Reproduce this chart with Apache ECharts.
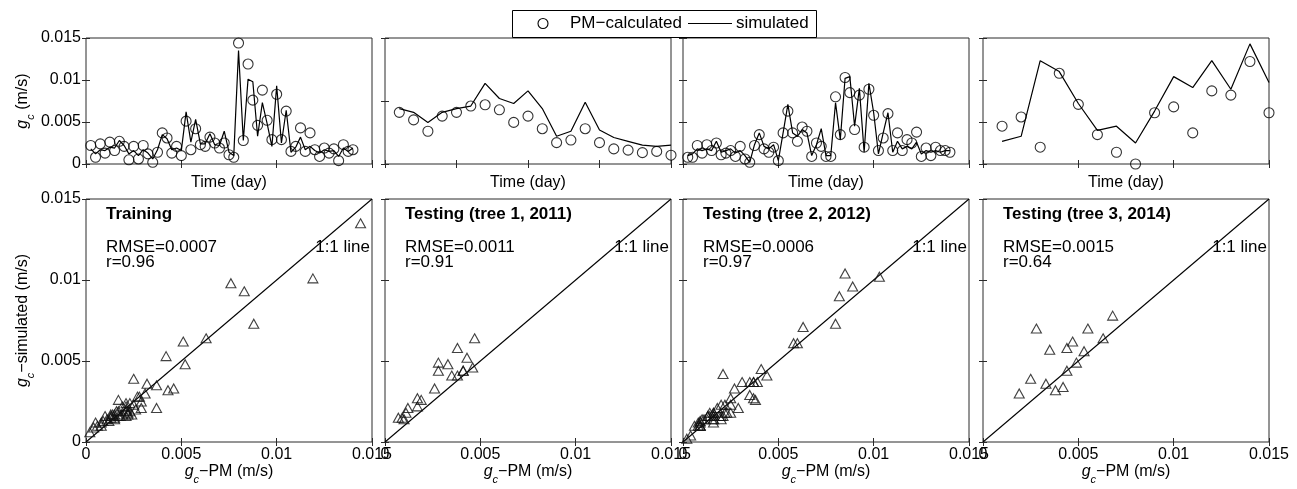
<!DOCTYPE html>
<html><head><meta charset="utf-8">
<script src="https://cdn.jsdelivr.net/npm/echarts@6/dist/echarts.min.js"></script>
<style>html,body{margin:0;padding:0;background:#fff}#c{width:1297px;height:489px}</style>
</head><body><div id="c"></div>
<script>
// ---------------- data ----------------
const pm1 = [0.0022,0.0008,0.0024,0.0013,0.0026,0.0016,0.0027,0.0021,0.0005,0.0021,
  0.0006,0.0022,0.0012,0.0002,0.0014,0.0037,0.0031,0.0013,0.0021,0.0010,
  0.0051,0.0017,0.0042,0.0023,0.0021,0.0032,0.0025,0.0019,0.0025,0.0011,
  0.0008,0.0144,0.0028,0.0119,0.0076,0.0046,0.0088,0.0052,0.0029,0.0083,
  0.0029,0.0063,0.0015,0.0021,0.0043,0.0015,0.0037,0.0017,0.0009,0.0019,
  0.0013,0.0018,0.0004,0.0023,0.0015,0.0017];
const sim1 = [0.0018,0.0012,0.0017,0.0016,0.0020,0.0019,0.0028,0.0022,0.0012,0.0016,
  0.0010,0.0017,0.0013,0.0006,0.0017,0.0035,0.0030,0.0017,0.0019,0.0016,
  0.0062,0.0026,0.0053,0.0024,0.0024,0.0036,0.0023,0.0022,0.0039,0.0014,
  0.0010,0.0135,0.0028,0.0101,0.0098,0.0033,0.0073,0.0048,0.0021,0.0093,
  0.0025,0.0064,0.0014,0.0020,0.0032,0.0017,0.0021,0.0016,0.0013,0.0017,
  0.0015,0.0016,0.0009,0.0019,0.0015,0.0019];
const pm2 = [0.0041,0.0035,0.0026,0.0038,0.0041,0.0046,0.0047,0.0043,0.0033,0.0038,
  0.0028,0.0017,0.0019,0.0028,0.0017,0.0012,0.0011,0.0009,0.0010,0.0007];
const sim2 = [0.0044,0.0041,0.0033,0.0041,0.0044,0.0046,0.0064,0.0052,0.0048,0.0058,
  0.0044,0.0022,0.0026,0.0049,0.0027,0.0021,0.0018,0.0015,0.0014,0.0015];
const pm3 = [0.0008,0.0008,0.0022,0.0013,0.0023,0.0016,0.0025,0.0011,0.0013,0.0016,
  0.0009,0.0021,0.0006,0.0002,0.0022,0.0035,0.0018,0.0014,0.0020,0.0004,
  0.0037,0.0063,0.0037,0.0027,0.0044,0.0039,0.0009,0.0025,0.0021,0.0009,
  0.0009,0.0080,0.0035,0.0103,0.0085,0.0041,0.0082,0.0020,0.0089,0.0058,
  0.0016,0.0031,0.0060,0.0016,0.0037,0.0016,0.0029,0.0025,0.0038,0.0009,
  0.0019,0.0010,0.0020,0.0016,0.0016,0.0014];
const sim3 = [0.0010,0.0012,0.0018,0.0016,0.0018,0.0016,0.0027,0.0014,0.0016,0.0018,
  0.0013,0.0016,0.0010,0.0002,0.0023,0.0037,0.0021,0.0018,0.0023,0.0004,
  0.0037,0.0071,0.0037,0.0033,0.0041,0.0037,0.0010,0.0023,0.0042,0.0010,
  0.0010,0.0073,0.0029,0.0102,0.0104,0.0045,0.0090,0.0014,0.0096,0.0061,
  0.0012,0.0037,0.0061,0.0014,0.0027,0.0018,0.0021,0.0018,0.0026,0.0012,
  0.0016,0.0014,0.0016,0.0014,0.0016,0.0016];
const pm4 = [0.0045,0.0056,0.0020,0.0108,0.0071,0.0035,0.0014,0.0000,0.0061,0.0068,
  0.0037,0.0087,0.0082,0.0122,0.0061];
const sim4 = [0.0027,0.0033,0.0123,0.0110,0.0072,0.0040,0.0045,0.0025,0.0063,0.0104,
  0.0091,0.0123,0.0089,0.0143,0.0097];
// scatter of panel 4
const scat4Pm  = [0.0068,0.0055,0.0028,0.0063,0.0047,0.0044,0.0035,0.0053,0.0049,0.0044,
  0.0025,0.0033,0.0038,0.0042,0.0019];
const scat4Sim = [0.0078,0.0070,0.0070,0.0064,0.0062,0.0058,0.0057,0.0056,0.0049,0.0044,
  0.0039,0.0036,0.0032,0.0034,0.0030];

const panelTitles = ['Training', 'Testing (tree 1, 2011)', 'Testing (tree 2, 2012)', 'Testing (tree 3, 2014)'];
const rmseLabels = ['RMSE=0.0007', 'RMSE=0.0011', 'RMSE=0.0006', 'RMSE=0.0015'];
const rLabels = ['r=0.96', 'r=0.91', 'r=0.97', 'r=0.64'];
const oneToOneLabel = '1:1 line';
const timeAxisMax = [60, 20, 60, 15];
const timeAxisStep = [20, 5, 20, 5];
const topGcMax = [0.015, 0.01, 0.015, 0.015];
const gcMax = 0.015;
const gcStep = 0.005;
const seriesNames = ['PM\u2212calculated', 'simulated'];
const timeAxisTitle = 'Time (day)';

const pmSets = [pm1, pm2, pm3, pm4];
const simSets = [sim1, sim2, sim3, sim4];
const scatPm = [pm1, pm2, pm3, scat4Pm];
const scatSim = [sim1, sim2, sim3, scat4Sim];

// ---------------- layout / style ----------------
const FONT = '"Liberation Sans", Arial, Helvetica, sans-serif';
const colLeft = [86, 385, 683, 983];
const W = 286;
const topTop = 38, topH = 126, botTop = 199, botH = 243;
const FRAME = '#2a2a2a';
const INK = '#000';

const grids = [], xAxes = [], yAxes = [], series = [], graphics = [];
const tick = { show: true, inside: true, length: 4, lineStyle: { color: FRAME, width: 1 } };
const labelStyle = { color: '#000', fontSize: 16, fontFamily: FONT, margin: 5 };
const richSub = {
  g: { fontStyle: 'italic', fontSize: 16, fontFamily: FONT, color: '#000' },
  c: { fontStyle: 'italic', fontSize: 11, fontFamily: FONT, color: '#000', padding: [16, 0, 0, 0] },
  t: { fontSize: 16, fontFamily: FONT, color: '#000' }
};

function addGrid(left, top, height, xCfg, yCfg) {
  const gi = grids.length;
  grids.push({ left: left, top: top, width: W, height: height, show: true,
    borderColor: FRAME, borderWidth: 1, backgroundColor: 'transparent', containLabel: false });
  xAxes.push(Object.assign({ gridIndex: gi, type: 'value', position: 'bottom',
    axisLine: { show: false }, axisTick: tick, splitLine: { show: false } }, xCfg));
  xAxes.push({ gridIndex: gi, type: 'value', position: 'top', min: xCfg.min, max: xCfg.max,
    interval: xCfg.interval, axisLine: { show: false }, axisTick: tick,
    axisLabel: { show: false }, splitLine: { show: false } });
  yAxes.push(Object.assign({ gridIndex: gi, type: 'value', position: 'left',
    axisLine: { show: false }, axisTick: tick, splitLine: { show: false } }, yCfg));
  yAxes.push({ gridIndex: gi, type: 'value', position: 'right', min: yCfg.min, max: yCfg.max,
    interval: yCfg.interval, axisLine: { show: false }, axisTick: tick,
    axisLabel: { show: false }, splitLine: { show: false } });
  return gi;
}

for (let p = 0; p < 4; p++) {
  // ---- top: time series ----
  const gTop = addGrid(colLeft[p], topTop, topH,
    { min: 0, max: timeAxisMax[p], interval: timeAxisStep[p], axisLabel: { show: false },
      name: timeAxisTitle, nameLocation: 'middle', nameGap: 11,
      nameTextStyle: { fontSize: 16, fontFamily: FONT, color: '#000' } },
    { min: 0, max: topGcMax[p], interval: gcStep,
      axisLabel: Object.assign({ show: p === 0, showMinLabel: true, showMaxLabel: true }, labelStyle),
      name: p === 0 ? '{g|g}{c|c}{t| (m/s)}' : '', nameLocation: 'middle', nameGap: 50,
      nameTextStyle: { rich: richSub } });
  const pts = pmSets[p].map((v, i) => [i + 1, v]);
  const line = simSets[p].map((v, i) => [i + 1, v]);
  series.push({ type: 'line', name: seriesNames[1], xAxisIndex: 2 * gTop, yAxisIndex: 2 * gTop,
    data: line, symbol: 'none', lineStyle: { color: INK, width: 1.2 }, silent: true, z: 2 });
  series.push({ type: 'scatter', name: seriesNames[0], xAxisIndex: 2 * gTop, yAxisIndex: 2 * gTop,
    data: pts, symbol: 'circle', symbolSize: 10,
    itemStyle: { color: 'rgba(0,0,0,0)', borderColor: INK, borderWidth: 1.1 }, silent: true, z: 3 });

  // ---- bottom: scatter ----
  const gBot = addGrid(colLeft[p], botTop, botH,
    { min: 0, max: gcMax, interval: gcStep,
      axisLabel: Object.assign({ show: true, showMinLabel: true, showMaxLabel: true, hideOverlap: false }, labelStyle),
      name: '{g|g}{c|c}{t|\u2212PM (m/s)}', nameLocation: 'middle', nameGap: 16,
      nameTextStyle: { rich: richSub } },
    { min: 0, max: gcMax, interval: gcStep,
      axisLabel: Object.assign({ show: p === 0, showMinLabel: true, showMaxLabel: true }, labelStyle),
      name: p === 0 ? '{g|g}{c|c}{t|\u2212simulated (m/s)}' : '', nameLocation: 'middle', nameGap: 50,
      nameTextStyle: { rich: richSub } });
  series.push({ type: 'line', name: 'one-to-one', xAxisIndex: 2 * gBot, yAxisIndex: 2 * gBot,
    data: [[0, 0], [gcMax, gcMax]], symbol: 'none', lineStyle: { color: INK, width: 1.1 }, silent: true, z: 2 });
  series.push({ type: 'scatter', name: 'scatter-' + p, xAxisIndex: 2 * gBot, yAxisIndex: 2 * gBot,
    data: scatPm[p].map((v, i) => [v, scatSim[p][i]]), symbol: 'triangle', symbolSize: [10, 9],
    itemStyle: { color: 'rgba(0,0,0,0)', borderColor: '#111', borderWidth: 1.1 }, silent: true, z: 3 });

  // ---- annotations ----
  const tx = colLeft[p] + 20;
  graphics.push({ type: 'text', x: tx, y: 206, silent: true,
    style: { text: panelTitles[p], fontSize: 17, fontWeight: 'bold', fontFamily: FONT, fill: '#000', textVerticalAlign: 'top' } });
  graphics.push({ type: 'text', x: tx, y: 239, silent: true,
    style: { text: rmseLabels[p], fontSize: 17, fontFamily: FONT, fill: '#000', textVerticalAlign: 'top' } });
  graphics.push({ type: 'text', x: tx, y: 254, silent: true,
    style: { text: rLabels[p], fontSize: 17, fontFamily: FONT, fill: '#000', textVerticalAlign: 'top' } });
  graphics.push({ type: 'text', x: colLeft[p] + W - 2, y: 239, silent: true,
    style: { text: oneToOneLabel, fontSize: 17, fontFamily: FONT, fill: '#000', textAlign: 'right', textVerticalAlign: 'top' } });
}

// ---- legend box (drawn as graphic elements) ----
const legendBox = { x: 512, y: 10, w: 304, h: 27 };
const legMid = legendBox.y + legendBox.h / 2;
graphics.push({ type: 'rect', silent: true, z: 10,
  shape: { x: legendBox.x + 0.5, y: legendBox.y + 0.5, width: legendBox.w, height: legendBox.h },
  style: { fill: '#fff', stroke: '#000', lineWidth: 1 } });
graphics.push({ type: 'circle', silent: true, z: 11,
  shape: { cx: legendBox.x + 31, cy: legMid, r: 5 },
  style: { fill: 'none', stroke: '#000', lineWidth: 1.1 } });
graphics.push({ type: 'text', silent: true, z: 11, x: legendBox.x + 58, y: legMid,
  style: { text: seriesNames[0], fontSize: 17, fontFamily: FONT, fill: '#000', textVerticalAlign: 'middle' } });
graphics.push({ type: 'line', silent: true, z: 11,
  shape: { x1: legendBox.x + 176, y1: legMid, x2: legendBox.x + 220, y2: legMid },
  style: { stroke: '#000', lineWidth: 1.2 } });
graphics.push({ type: 'text', silent: true, z: 11, x: legendBox.x + 224, y: legMid,
  style: { text: seriesNames[1], fontSize: 17, fontFamily: FONT, fill: '#000', textVerticalAlign: 'middle' } });

const chart = echarts.init(document.getElementById('c'), null, { renderer: 'canvas' });
chart.setOption({
  backgroundColor: '#fff',
  animation: false,
  textStyle: { fontFamily: FONT },
  grid: grids,
  xAxis: xAxes,
  yAxis: yAxes,
  series: series,
  graphic: graphics
});
</script></body></html>
